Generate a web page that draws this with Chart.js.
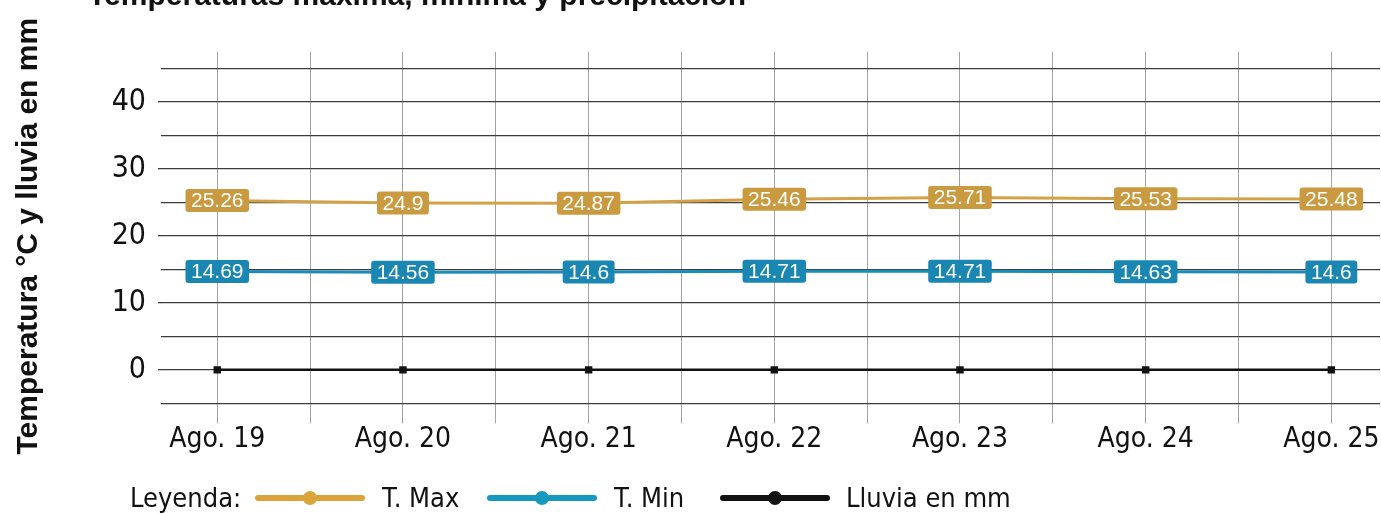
<!DOCTYPE html>
<html>
<head>
<meta charset="utf-8">
<script src="https://cdn.jsdelivr.net/npm/chart.js@4/dist/chart.umd.min.js"></script>
<style>
  html, body { margin: 0; padding: 0; background: #fff; }
  #wrap { position: relative; width: 1381px; height: 514px; overflow: hidden; }
  #chart { position: absolute; left: 0; top: 0; }
  #title {
    position: absolute; left: 88px; top: -22px;
    font: bold 30px "Liberation Sans", Arial, sans-serif; color: #111; white-space: nowrap;
  }
  #legend {
    position: absolute; left: 0; top: 480px; height: 36px; width: 1381px;
    font: 27px "Liberation Sans Narrow", "Arial Narrow", "DejaVu Sans Condensed", sans-serif; color: #111;
  }
  #legend > span { position: absolute; top: 0; line-height: 36px; white-space: nowrap; }
  #legend .sym { top: 11px; width: 110px; height: 14px; }
  .sym .ln { position: absolute; left: 0; right: 0; top: 4px; height: 6px; border-radius: 3px; }
  .sym .dt { position: absolute; left: 48px; top: 0; width: 14px; height: 14px; border-radius: 50%; }
</style>
</head>
<body>
<div id="wrap">
  <canvas id="chart" width="1386" height="514"></canvas>
  <div id="title">Temperaturas máxima, mínima y precipitación</div>
  <div id="legend"></div>
</div>
<script>
const categories = ["Ago. 19", "Ago. 20", "Ago. 21", "Ago. 22", "Ago. 23", "Ago. 24", "Ago. 25"]
const tMax = [25.26, 24.9, 24.87, 25.46, 25.71, 25.53, 25.48]
const tMin = [14.69, 14.56, 14.6, 14.71, 14.71, 14.63, 14.6]
const lluvia = [0, 0, 0, 0, 0, 0, 0]
const yTicks = [-5, 0, 5, 10, 15, 20, 25, 30, 35, 40, 45]

const narrow = '"Liberation Sans Narrow", "Arial Narrow", "DejaVu Sans Condensed", sans-serif'
const series = [
  { label: "T. Max", values: tMax, line: "#D3A246", box: "#C99A3F", legend: "#DBA43B" },
  { label: "T. Min", values: tMin, line: "#1A8CB8", box: "#1A87B2", legend: "#1799BF" },
  { label: "Lluvia en mm", values: lluvia, line: "#111111", box: null, legend: "#111111" },
]

// legend in html, items placed like the original
const legend = document.getElementById("legend")
const symX = [255, 487, 720]
const txtX = [382, 614, 846]
let html = '<span style="left:130px">Leyenda:</span>'
series.forEach((s, i) => {
  html += '<span class="sym" style="left:' + symX[i] + 'px"><span class="ln" style="background:' + s.legend +
    '"></span><span class="dt" style="background:' + s.legend + '"></span></span>'
  html += '<span style="left:' + txtX[i] + 'px">' + s.label + "</span>"
})
legend.innerHTML = html

// boxed value labels
const boxLabels = {
  id: "boxLabels",
  afterDatasetsDraw(chart) {
    const ctx = chart.ctx
    ctx.save()
    ctx.font = '21px "Liberation Sans", Arial, sans-serif'
    ctx.textAlign = "center"
    ctx.textBaseline = "middle"
    chart.data.datasets.forEach((ds, i) => {
      if (!ds.boxColor) return
      chart.getDatasetMeta(i).data.forEach((pt, j) => {
        const txt = String(ds.data[j].y)
        const w = ctx.measureText(txt).width + 11
        ctx.fillStyle = ds.boxColor
        ctx.beginPath()
        ctx.roundRect(pt.x - w / 2, pt.y - 11.5, w, 23, 3)
        ctx.fill()
        ctx.fillStyle = "#fff"
        ctx.fillText(txt, pt.x, pt.y + 1)
      })
    })
    ctx.restore()
  },
}

new Chart(document.getElementById("chart"), {
  type: "line",
  data: {
    datasets: series.map((s, i) => ({
      label: s.label,
      data: s.values.map((v, j) => ({ x: j, y: v })),
      borderColor: s.line,
      backgroundColor: s.line,
      borderWidth: i == 2 ? 2.5 : 3,
      pointStyle: "rect",
      pointRadius: i == 2 ? 3.5 : 0,
      pointHoverRadius: 0,
      boxColor: s.box,
    })),
  },
  options: {
    responsive: false,
    animation: false,
    events: [],
    layout: { padding: { left: 11, top: 52, right: 0, bottom: 57 } },
    plugins: {
      legend: { display: false },
      tooltip: { enabled: false },
    },
    scales: {
      x: {
        type: "linear",
        min: -0.303,
        max: 6.262,
        afterBuildTicks: (scale) => {
          scale.ticks = categories.flatMap((c, i) => i ? [{ value: i - 0.5 }, { value: i }] : [{ value: 0 }])
        },
        border: { display: false },
        grid: { color: "#a3a3a3", lineWidth: 1, tickLength: 3 },
        ticks: {
          autoSkip: false,
          maxRotation: 0,
          padding: 0,
          color: "#111",
          font: { family: narrow, size: 28 },
          callback: (v) => Number.isInteger(v) ? categories[v] : "",
        },
      },
      y: {
        min: -7.54,
        max: 47.42,
        afterBuildTicks: (scale) => {
          scale.ticks = yTicks.map((v) => ({ value: v }))
        },
        afterFit: (scale) => { scale.width = 150 },
        border: { display: false },
        grid: {
          color: "#3c3c3c",
          lineWidth: 1.3,
          tickLength: 3,
          tickColor: (c) => c.tick && c.tick.value % 10 === 0 ? "#3c3c3c" : "rgba(0,0,0,0)",
        },
        title: {
          display: true,
          text: "Temperatura °C y lluvia en mm",
          color: "#111",
          font: { family: '"Liberation Sans", Arial, sans-serif', size: 30, weight: "bold" },
          padding: { top: 0, bottom: 0 },
        },
        ticks: {
          autoSkip: false,
          padding: 12,
          color: "#111",
          font: { family: narrow, size: 30 },
          callback: (v) => v % 10 === 0 ? v : "",
        },
      },
    },
  },
  plugins: [boxLabels],
})
</script>
</body>
</html>
